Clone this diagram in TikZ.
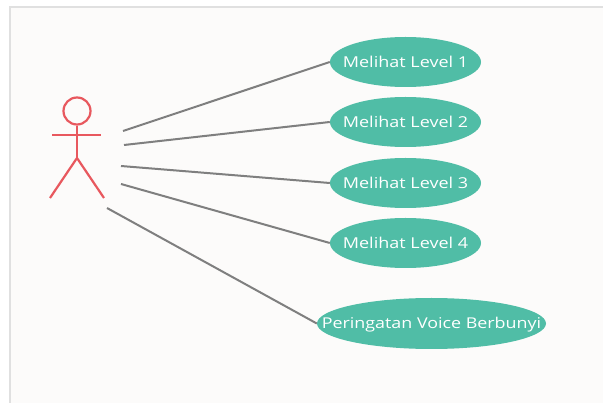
\documentclass[tikz,border=0pt]{standalone}
\usepackage{fontspec}
\setmainfont[FakeStretch=1.2]{Open Sans}
\usetikzlibrary{shapes.geometric}
\definecolor{panelbg}{HTML}{FCFBFA}
\definecolor{framecol}{HTML}{E0E0E0}
\definecolor{teal}{HTML}{50BDA6}
\definecolor{wire}{HTML}{7F7F7F}
\definecolor{actorred}{HTML}{E8585E}
\newcommand{\casetext}[1]{\makebox[0pt][c]{\raisebox{-5.5pt}[0pt][0pt]{#1}}}
\tikzset{
  usecase/.style={ellipse,fill=teal,draw=none,inner sep=0pt,minimum width=151pt,minimum height=50pt,text=white,font=\fontsize{15}{18}\selectfont},
  wideuse/.style={usecase,minimum width=229pt,minimum height=51pt,font=\fontsize{14.9}{18}\selectfont},
  link/.style={draw=wire,line width=2pt},
  actor/.style={draw=actorred,line width=2.2pt}
}
\begin{document}
\begin{tikzpicture}[x=1pt,y=-1pt]
\useasboundingbox (0,0) rectangle (603,403);
\fill[white] (0,0) rectangle (603,403);
\fill[panelbg] (10,7) rectangle (603,403);
\draw[framecol,line width=1.5pt] (10,403) -- (10,7) -- (603,7);
% actor
\node[circle,actor,minimum size=27pt,inner sep=0pt] (head) at (77,111) {};
\coordinate (hip) at (77,158);
\coordinate (handL) at (52,135);
\coordinate (handR) at (101,135);
\coordinate (footL) at (50,198);
\coordinate (footR) at (104,198);
\draw[actor] (head.south) -- (hip);
\draw[actor] (handL) -- (handR);
\draw[actor] (footL) -- (hip) -- (footR);
% use cases
\node[usecase] (u1) at (405.5,62) {\casetext{Melihat Level 1}};
\node[usecase] (u2) at (405.5,122) {\casetext{Melihat Level 2}};
\node[usecase] (u3) at (405.5,183) {\casetext{Melihat Level 3}};
\node[usecase] (u4) at (405.5,243) {\casetext{Melihat Level 4}};
\node[wideuse] (u5) at (431.5,323.5) {\casetext{Peringatan Voice Berbunyi}};
% connector origins
\coordinate (a1) at (123,131);
\coordinate (a2) at (124,145);
\coordinate (a3) at (121,166);
\coordinate (a4) at (121,184);
\coordinate (a5) at (107,208);
\draw[link] (a1) -- (u1.west);
\draw[link] (a2) -- (u2.west);
\draw[link] (a3) -- (u3.west);
\draw[link] (a4) -- (u4.west);
\draw[link] (a5) -- (u5.west);
\end{tikzpicture}
\end{document}
